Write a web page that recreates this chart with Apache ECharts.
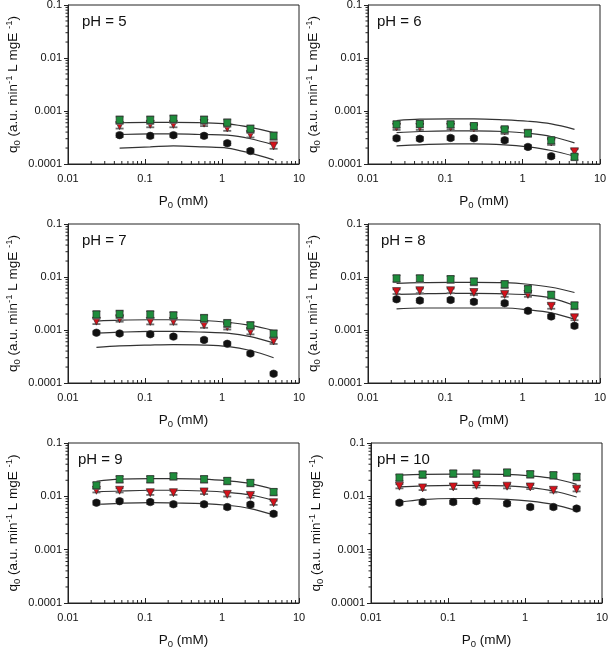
<!DOCTYPE html>
<html>
<head>
<meta charset="utf-8">
<script src="https://cdn.jsdelivr.net/npm/echarts@6/dist/echarts.min.js"></script>
<style>
  html, body { margin: 0; padding: 0; background: #fff; }
  #chart { width: 609px; height: 648px; }
</style>
</head>
<body>
<div id="chart"></div>
<script>
// substrate concentrations, mM
const P0 = [0.0234, 0.0468, 0.117, 0.234, 0.585, 1.17, 2.34, 4.68];
const xTicks = [0.01, 0.1, 1, 10];
const yTicks = [0.0001, 0.001, 0.01, 0.1];
const phLabels = ['pH = 5', 'pH = 6', 'pH = 7', 'pH = 8', 'pH = 9', 'pH = 10'];

// measured q0 (green squares / red triangles / black circles)
const ph5Green = [null, 0.00068, 0.00068, 0.00071, 0.00068, 0.0006, 0.00046, 0.00034];
const ph5Red   = [null, 0.00053, 0.00056, 0.00056, 0.00059, 0.00048, 0.00036, 0.00022];
const ph5Black = [null, 0.00035, 0.00034, 0.00035, 0.00034, 0.000246, 0.000176, null];
const ph6Green = [0.00056, 0.00057, 0.00056, 0.00052, 0.00045, 0.00038, 0.00028, 0.000137];
const ph6Red   = [0.0005, 0.0005, 0.0005, 0.00048, 0.00042, 0.00038, 0.00026, 0.00017];
const ph6Black = [0.000305, 0.0003, 0.00031, 0.000305, 0.00028, 0.00021, 0.00014, null];
const ph7Green = [0.00196, 0.002, 0.00196, 0.00188, 0.00167, 0.00134, 0.00122, 0.00085];
const ph7Red   = [0.00147, 0.00163, 0.00145, 0.00145, 0.00125, 0.00116, 0.00094, 0.00062];
const ph7Black = [0.00089, 0.00086, 0.00083, 0.00075, 0.00065, 0.00055, 0.00036, 0.00015];
const ph8Green = [0.0094, 0.0094, 0.0091, 0.0082, 0.0073, 0.0059, 0.0046, 0.0029];
const ph8Red   = [0.0053, 0.0055, 0.0055, 0.0051, 0.0047, 0.0047, 0.0028, 0.0017];
const ph8Black = [0.0038, 0.0036, 0.0037, 0.0034, 0.0032, 0.0023, 0.0018, 0.0012];
const ph9Green = [0.0161, 0.021, 0.021, 0.0238, 0.021, 0.0195, 0.0179, 0.0121];
const ph9Red   = [0.013, 0.013, 0.0117, 0.0117, 0.0121, 0.0109, 0.0104, 0.0076];
const ph9Black = [0.0076, 0.0081, 0.0078, 0.0071, 0.0071, 0.0063, 0.007, 0.0047];
const ph10Green = [0.0225, 0.0257, 0.0268, 0.0268, 0.028, 0.026, 0.0249, 0.0232];
const ph10Red   = [0.0155, 0.0144, 0.015, 0.0161, 0.0155, 0.015, 0.013, 0.0136];
const ph10Black = [0.0076, 0.0078, 0.0078, 0.0081, 0.0073, 0.0063, 0.0063, 0.0059];

// fitted curves
const ph5FitHigh = [null, 0.0006, 0.00061, 0.00061, 0.0006, 0.00057, 0.00049, 0.00039];
const ph5FitMid  = [null, 0.00036, 0.00037, 0.00037, 0.00036, 0.00035, 0.0003, 0.00023];
const ph5FitLow  = [null, 0.0002, 0.00021, 0.00022, 0.00021, 0.0002, 0.00016, 0.00012];
const ph6FitHigh = [0.00066, 0.0007, 0.00071, 0.00071, 0.00068, 0.00064, 0.00057, 0.00045];
const ph6FitMid  = [0.00039, 0.00041, 0.00042, 0.00042, 0.00041, 0.00038, 0.00033, 0.00025];
const ph6FitLow  = [0.00022, 0.00023, 0.00024, 0.00024, 0.00023, 0.00021, 0.00018, 0.00014];
const ph7FitHigh = [0.00147, 0.00153, 0.00156, 0.00156, 0.00151, 0.0014, 0.00122, 0.00098];
const ph7FitMid  = [0.00087, 0.00091, 0.00094, 0.00094, 0.00091, 0.00087, 0.00075, 0.00057];
const ph7FitLow  = [0.00047, 0.0005, 0.00052, 0.00053, 0.00052, 0.00049, 0.00041, 0.0003];
const ph8FitHigh = [0.0076, 0.0078, 0.0079, 0.0079, 0.0078, 0.0073, 0.0064, 0.0051];
const ph8FitMid  = [0.0047, 0.0048, 0.0049, 0.0049, 0.0048, 0.0046, 0.004, 0.0029];
const ph8FitLow  = [0.0025, 0.0026, 0.0026, 0.0026, 0.0026, 0.0024, 0.0021, 0.0016];
const ph9FitHigh = [0.0192, 0.021, 0.0215, 0.0215, 0.021, 0.0195, 0.0173, 0.0136];
const ph9FitMid  = [0.0121, 0.0126, 0.013, 0.013, 0.0126, 0.0119, 0.0106, 0.0084];
const ph9FitLow  = [0.0071, 0.0074, 0.0076, 0.0075, 0.0073, 0.0068, 0.0059, 0.0045];
const ph10FitHigh = [0.0249, 0.0257, 0.026, 0.026, 0.0257, 0.0242, 0.0216, 0.0168];
const ph10FitMid  = [0.015, 0.0157, 0.0161, 0.0161, 0.0157, 0.0146, 0.0126, 0.0097];
const ph10FitLow  = [0.0078, 0.0087, 0.0091, 0.0091, 0.0088, 0.0081, 0.007, 0.0054];

// relative error bar half-widths (green, red, black) per panel
const ph5Err = [0.16, 0.12, 0.08];
const ph6Err = [0.14, 0.12, 0.08];
const ph7Err = [0.16, 0.12, 0.07];
const ph8Err = [0.15, 0.1, 0.08];
const ph9Err = [0.14, 0.09, 0.08];
const ph10Err = [0.14, 0.09, 0.08];

const panels = [
  [ph5Green, ph5Red, ph5Black, ph5FitHigh, ph5FitMid, ph5FitLow, ph5Err],
  [ph6Green, ph6Red, ph6Black, ph6FitHigh, ph6FitMid, ph6FitLow, ph6Err],
  [ph7Green, ph7Red, ph7Black, ph7FitHigh, ph7FitMid, ph7FitLow, ph7Err],
  [ph8Green, ph8Red, ph8Black, ph8FitHigh, ph8FitMid, ph8FitLow, ph8Err],
  [ph9Green, ph9Red, ph9Black, ph9FitHigh, ph9FitMid, ph9FitLow, ph9Err],
  [ph10Green, ph10Red, ph10Black, ph10FitHigh, ph10FitMid, ph10FitLow, ph10Err]
];

// left, top, width, height, label offset
const rects = [
  [68, 5, 231, 159, 14], [368, 5, 232, 159, 9],
  [68, 224, 231, 159, 14], [368, 224, 232, 159, 13],
  [68, 443, 231, 160, 10], [371, 443, 231, 160, 6]
];

const FONT = 'Liberation Sans';
const AXIS = '#222';
const minorMult = [2, 3, 4, 5, 6, 7, 8, 9];
const xMinor = [], yMinor = [];
xTicks.slice(0, -1).forEach(d => minorMult.forEach(m => xMinor.push(d * m)));
yTicks.slice(0, -1).forEach(d => minorMult.forEach(m => yMinor.push(d * m)));

const fmt = v => String(+Number(v).toPrecision(3));
const richName = {
  a: { fontSize: 13.5, fontFamily: FONT, color: '#111', lineHeight: 18 },
  s: { fontSize: 9.5, fontFamily: FONT, color: '#111', lineHeight: 18, verticalAlign: 'bottom', padding: [6, 0, 0, 0] },
  p: { fontSize: 9.5, fontFamily: FONT, color: '#111', lineHeight: 10, verticalAlign: 'top' }
};

const grid = [], xAxis = [], yAxis = [], series = [], title = [];

const toPairs = arr => P0.map((x, j) => arr[j] == null ? null : [x, arr[j]]).filter(Boolean);

panels.forEach((p, i) => {
  const r = rects[i];
  grid.push({ left: r[0], top: r[1], width: r[2], height: r[3], containLabel: false,
    outerBoundsMode: 'none', show: true, borderColor: AXIS, borderWidth: 1, backgroundColor: 'transparent' });
  xAxis.push({
    type: 'log', logBase: 10, gridIndex: i, min: xTicks[0], max: xTicks[xTicks.length - 1],
    axisLine: { onZero: false, lineStyle: { color: AXIS, width: 1 } },
    axisTick: { inside: true, length: 5, lineStyle: { color: AXIS } },
    axisLabel: { fontSize: 11, fontFamily: FONT, color: '#111', margin: 9, formatter: fmt },
    splitLine: { show: false },
    name: '{a|P}{s|0}{a| (mM)}', nameLocation: 'middle', nameGap: 28,
    nameTextStyle: { rich: richName }
  });
  yAxis.push({
    type: 'log', logBase: 10, gridIndex: i, min: yTicks[0], max: yTicks[yTicks.length - 1],
    axisLine: { onZero: false, lineStyle: { color: AXIS, width: 1 } },
    axisTick: { inside: false, length: 4, lineStyle: { color: AXIS } },
    axisLabel: { fontSize: 11, fontFamily: FONT, color: '#111', margin: 6, formatter: fmt },
    splitLine: { show: false },
    name: '{a|q}{s|0}{a| (a.u. min}{p|-1}{a| L mgE }{p|-1}{a|)}', nameLocation: 'middle', nameGap: 46,
    nameTextStyle: { rich: richName }
  });
  title.push({ text: phLabels[i], left: r[0] + r[4], top: r[1] + 9, padding: 0,
    textStyle: { fontSize: 15, fontWeight: 'normal', fontFamily: FONT, color: '#111' } });

  // minor log ticks
  series.push({
    type: 'custom', xAxisIndex: i, yAxisIndex: i, silent: true, clip: false, z: 3,
    data: xMinor.map(v => [v, yTicks[0]]),
    renderItem: (params, api) => {
      const pt = api.coord([api.value(0), api.value(1)]);
      return { type: 'line', shape: { x1: pt[0], y1: pt[1], x2: pt[0], y2: pt[1] - 3 },
        style: { stroke: AXIS, lineWidth: 1 } };
    }
  });
  series.push({
    type: 'custom', xAxisIndex: i, yAxisIndex: i, silent: true, clip: false, z: 3,
    data: yMinor.map(v => [xTicks[0], v]),
    renderItem: (params, api) => {
      const pt = api.coord([api.value(0), api.value(1)]);
      return { type: 'line', shape: { x1: pt[0], y1: pt[1], x2: pt[0] - 2.5, y2: pt[1] },
        style: { stroke: AXIS, lineWidth: 1 } };
    }
  });

  // fitted curves
  [p[3], p[4], p[5]].forEach(fit => {
    series.push({
      type: 'line', xAxisIndex: i, yAxisIndex: i, data: toPairs(fit), smooth: 0.35,
      showSymbol: false, symbol: 'none', silent: true, z: 2,
      lineStyle: { color: '#333', width: 1.2 }
    });
  });

  // error bars + markers: black circles, red triangles, green squares (green on top)
  const kinds = [
    { arr: p[2], err: p[6][2], symbol: 'circle', rot: 0, size: 7.5, color: '#111' },
    { arr: p[1], err: p[6][1], symbol: 'triangle', rot: 180, size: 8, color: '#d4121b' },
    { arr: p[0], err: p[6][0], symbol: 'rect', rot: 0, size: 7, color: '#1f8c3c' }
  ];
  kinds.forEach((k, n) => {
    const pts = toPairs(k.arr);
    series.push({
      type: 'custom', xAxisIndex: i, yAxisIndex: i, silent: true, z: 4 + n * 2,
      data: pts.map(d => [d[0], d[1] * (1 - k.err), d[1] * (1 + k.err)]),
      encode: { x: 0, y: [1, 2] },
      renderItem: (params, api) => {
        const lo = api.coord([api.value(0), api.value(1)]);
        const hi = api.coord([api.value(0), api.value(2)]);
        const w = 4;
        const st = { stroke: '#6e6e6e', lineWidth: 1.8 };
        return { type: 'group', children: [
          { type: 'line', shape: { x1: lo[0], y1: lo[1], x2: hi[0], y2: hi[1] }, style: { stroke: '#6e6e6e', lineWidth: 1 } },
          { type: 'line', shape: { x1: lo[0] - w, y1: lo[1], x2: lo[0] + w, y2: lo[1] }, style: st },
          { type: 'line', shape: { x1: hi[0] - w, y1: hi[1], x2: hi[0] + w, y2: hi[1] }, style: st }
        ] };
      }
    });
    series.push({
      type: 'scatter', xAxisIndex: i, yAxisIndex: i, data: pts, z: 5 + n * 2,
      symbol: k.symbol, symbolRotate: k.rot, symbolSize: k.size,
      itemStyle: { color: k.color, borderColor: '#222', borderWidth: 0.6, opacity: 1 }
    });
  });
});

const chart = echarts.init(document.getElementById('chart'), null, { renderer: 'canvas' });
chart.setOption({ animation: false, backgroundColor: '#fff', title, grid, xAxis, yAxis, series });
</script>
</body>
</html>
